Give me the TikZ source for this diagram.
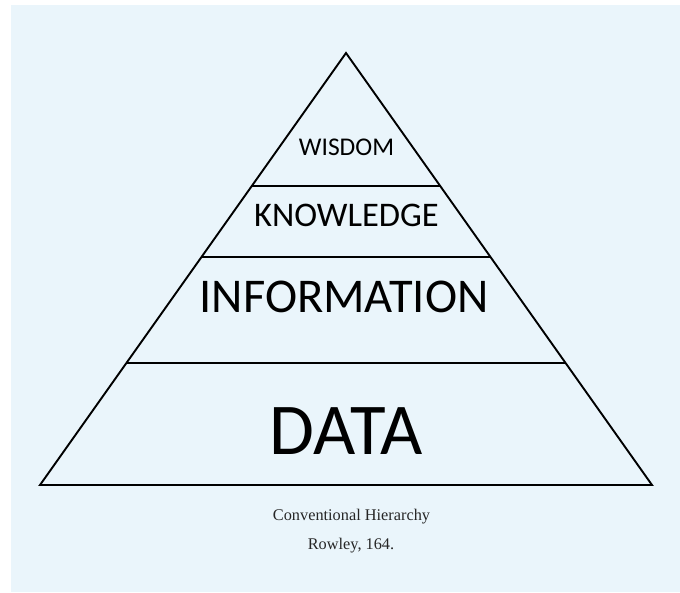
\documentclass[tikz,border=0pt]{standalone}
\usepackage{fontspec}
\setmainfont{Liberation Serif}
\newfontfamily\calfont{Carlito}
\usetikzlibrary{calc}
\definecolor{bgblue}{RGB}{234,245,251}
\tikzset{
  edge/.style={draw=black,line width=1.9pt,line join=miter},
  tier/.style={inner sep=0pt,text=black},
  caption/.style={inner sep=0pt,anchor=base,text=black!85,font=\fontsize{16.3}{18}\selectfont}
}
\begin{document}
\begin{tikzpicture}[x=1pt,y=-1pt]
\useasboundingbox (0,0) rectangle (680,592);
\fill[white] (0,0) rectangle (680,592);
\fill[bgblue] (11,5) rectangle (680,592);
\coordinate (apex) at (346,53);
\coordinate (bl) at (40,485);
\coordinate (br) at (652,485);
\draw[edge] (bl) -- (apex) -- (br) -- cycle;
\coordinate (l1) at ($(apex)!{(186-53)/432}!(bl)$);
\coordinate (r1) at ($(apex)!{(186-53)/432}!(br)$);
\coordinate (l2) at ($(apex)!{(257-53)/432}!(bl)$);
\coordinate (r2) at ($(apex)!{(257-53)/432}!(br)$);
\coordinate (l3) at ($(apex)!{(363-53)/432}!(bl)$);
\coordinate (r3) at ($(apex)!{(363-53)/432}!(br)$);
\draw[edge] (l1) -- (r1);
\draw[edge] (l2) -- (r2);
\draw[edge] (l3) -- (r3);
\node[tier,font=\calfont\fontsize{25.5}{28}\selectfont] (wisdom) at (346.5,147) {WISDOM};
\node[tier,font=\calfont\fontsize{34.5}{38}\selectfont] (knowledge) at (346.5,215) {KNOWLEDGE};
\node[tier,font=\calfont\fontsize{48.5}{52}\selectfont] (information) at (344,296.5) {INFORMATION};
\node[tier,font=\calfont\fontsize{73}{78}\selectfont] (data) at (346,431.5) {DATA};
\node[caption] (cap1) at (351.5,520) {Conventional Hierarchy};
\node[caption] (cap2) at (351,549) {Rowley, 164.};
\end{tikzpicture}
\end{document}
